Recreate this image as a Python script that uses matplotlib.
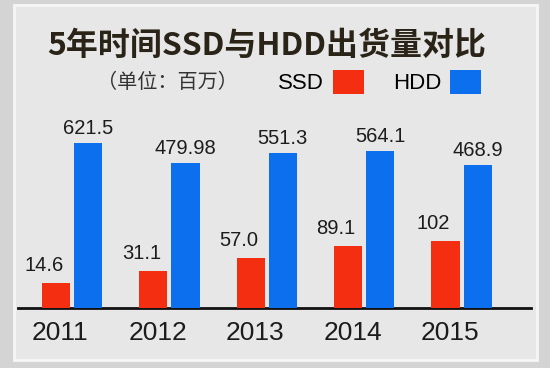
import matplotlib
matplotlib.use("Agg")
import matplotlib.pyplot as plt
import numpy as np
from matplotlib.patches import Rectangle

plt.rcParams['font.family'] = ['Liberation Sans', 'Noto Sans CJK SC', 'DejaVu Sans']

years = ["2011", "2012", "2013", "2014", "2015"]
ssd = [14.6, 31.1, 57.0, 89.1, 102]
hdd = [621.5, 479.98, 551.3, 564.1, 468.9]
ssd_labels = ["14.6", "31.1", "57.0", "89.1", "102"]
hdd_labels = ["621.5", "479.98", "551.3", "564.1", "468.9"]

RED = "#f42e10"
BLUE = "#0c6fee"
INK = "#1c1c1c"

fig = plt.figure(figsize=(5.5, 3.68), dpi=100)
fig.patch.set_facecolor("#d4d4d4")
# light panel with a pale frame, behind the axes
fig.patches.append(Rectangle((14 / 550, 1 - 360 / 368), 523 / 550, 355 / 368,
                             transform=fig.transFigure, facecolor="#e7e7e7",
                             edgecolor="#f6f6f6", lw=2, zorder=-10))

ax = fig.add_axes([18 / 550, 1 - 308 / 368, 513 / 550, 208 / 368])
ax.set_facecolor("none")
# the original infographic is not drawn to a linear scale; sqrt matches it well
ax.set_yscale("function", functions=(np.sqrt, np.square))

x = np.arange(len(years))
w = 0.29
b1 = ax.bar(x - 0.165, ssd, w, color=RED, label="SSD", zorder=3)
b2 = ax.bar(x + 0.165, hdd, w, color=BLUE, label="HDD", zorder=3)

for xi, v, s in zip(x, ssd, ssd_labels):
    ax.annotate(s, (xi - 0.165, v), xytext=(-12, 8), textcoords="offset pixels",
                ha="center", va="bottom", fontsize=14.5, color=INK)
for xi, v, s in zip(x, hdd, hdd_labels):
    ax.annotate(s, (xi + 0.165, v), xytext=(0, 5), textcoords="offset pixels",
                ha="center", va="bottom", fontsize=14.5, color=INK)

ax.set_xlim(-0.554, 4.713)
ax.set_ylim(0, 990)
ax.set_xticks(x - 0.12)
ax.set_xticklabels(years, fontsize=19, color=INK)
ax.tick_params(axis="x", length=0, pad=9)
ax.set_yticks([])
ax.minorticks_off()
for s in ("top", "right", "left"):
    ax.spines[s].set_visible(False)
ax.spines["bottom"].set_linewidth(2)
ax.spines["bottom"].set_color("#111111")

fig.text(267 / 550, 1 - 46 / 368, "5年时间SSD与HDD出货量对比", ha="center", va="center",
         fontsize=23, fontweight="bold", color="#2a2418",
         family=["Noto Sans CJK SC", "DejaVu Sans"])
fig.text(97 / 550, 1 - 82 / 368, "（单位：百万）", ha="left", va="center",
         fontsize=14.5, color="#333333", family=["Noto Sans CJK SC", "DejaVu Sans"])

fig.legend(handles=[b1, b2], loc="center left", bbox_to_anchor=(278 / 550, 1 - 82 / 368),
           ncol=2, frameon=False, markerfirst=False, fontsize=16,
           handlelength=1.4, handleheight=1.3, handletextpad=0.4, columnspacing=1.3,
           borderpad=0, borderaxespad=0)

fig.savefig("out.png", dpi=100, facecolor=fig.get_facecolor())
